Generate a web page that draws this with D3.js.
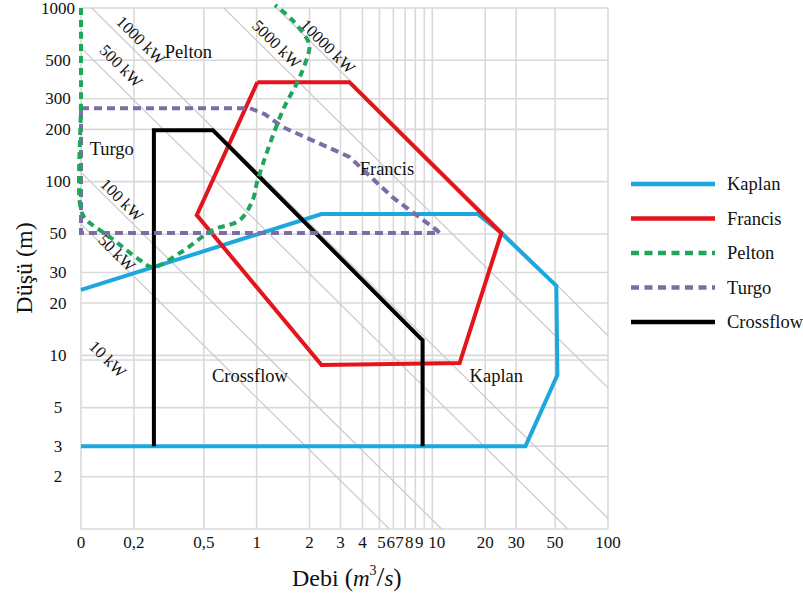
<!DOCTYPE html>
<html><head><meta charset="utf-8">
<script src="https://cdn.jsdelivr.net/npm/d3@7"></script>
<style>body{margin:0;background:#fff} text{font-family:'Liberation Serif','Times New Roman',serif;}</style>
</head><body>
<svg id="c" width="803" height="596"></svg>
<script>
// ---- data ----
const xTickValues=[0.1,0.2,0.5,1,2,3,4,5,6,7,8,9,10,20,30,50,100];
const xTickLabels=["0","0,2","0,5","1","2","3","4","5","6","7","8","9","10","20","30","50","100"];
const yTickValues=[1000,500,300,200,100,50,30,20,10,5,3,2];
const yTickLabels=["1000","500","300","200","100","50","30","20","10","5","3","2"];
const yExtraGrid=[1,9.4];

const powerLabels=["10 kW","50 kW","100 kW","500 kW","1000 kW","5000 kW","10000 kW"];
const powerQH=[null,5.7,11.3,59,115,650,1300];
const powerLabelQ=[0.142,0.16,0.171,0.169,0.219,1.296,2.54];
const powerLabelH=[9.5,38.9,78.5,464,651,619,600];

const kaplanQ=[0.1,2.34,18.1,24.7,50.8,51.5,33.9,0.1];
const kaplanH=[23.8,65.1,65.1,50.6,25.1,7.7,3,3];
const francisQ=[1.01,3.37,24.7,14.3,2.34,0.456,1.01];
const francisH=[374,374,50.6,9.03,8.8,64.2,374];
const peltonQ=[0.1,0.1,0.1,0.108,0.146,0.216,0.257,0.365,0.563,0.80,0.95,1.01,1.41,1.76,2.0,1.95,1.6,1.27];
const peltonH=[1000,300,68.6,60,48,35.4,32.2,38.8,52.6,60,78.5,101,258,400,596,653,851,1040];
const turgoQ=[0.1,0.914,1.11,1.41,3.37,5.92,10.6,11.0,0.1,0.1];
const turgoH=[265,265,245,206,139,81.5,52.6,50.6,50.6,265];
const crossQ=[0.26,0.26,0.563,8.8,8.8];
const crossH=[3,198,198,12.2,3];

const regionNames=["Pelton","Turgo","Francis","Crossflow","Kaplan"];
const regionQ=[0.30,0.112,3.86,0.556,16.3];
const regionH=[515,142,109,7.02,7.02];

const legendNames=["Kaplan","Francis","Pelton","Turgo","Crossflow"];

// ---- chart ----
const svg=d3.select("#c");
const x=d3.scaleLog().domain([0.1,100]).range([81,608]);
const y=d3.scaleLog().domain([1,1000]).range([529,8]);
const gridCol="#d9d9d9";
const ink="#111";
// small nudges for the crowded 5..10 tick labels
const xTickNudge={5:2,6:-2.5,7:-5.5,8:-6,9:-5,10:4.5};

svg.append("rect").attr("width",803).attr("height",596).attr("fill","#fff");
svg.append("defs").append("clipPath").attr("id","plot").append("rect")
  .attr("x",x(0.1)).attr("y",y(1000)).attr("width",x(100)-x(0.1)).attr("height",y(1)-y(1000));

const g=svg.append("g");
// grid
g.selectAll(".vg").data(xTickValues).join("line")
  .attr("x1",d=>x(d)).attr("x2",d=>x(d)).attr("y1",y(1000)).attr("y2",y(1))
  .attr("stroke",gridCol).attr("stroke-width",1.6);
g.selectAll(".hg").data(yTickValues.concat(yExtraGrid)).join("line")
  .attr("x1",x(0.1)).attr("x2",x(100)).attr("y1",d=>y(d)).attr("y2",d=>y(d))
  .attr("stroke",gridCol).attr("stroke-width",1.6);

// power lines
const pl=g.append("g").attr("clip-path","url(#plot)");
powerQH.forEach(qh=>{
  if(qh==null) return;
  pl.append("line").attr("x1",x(0.01)).attr("y1",y(qh/0.01)).attr("x2",x(1000)).attr("y2",y(qh/1000))
    .attr("stroke","#cccccc").attr("stroke-width",1.3);
});
const ang=Math.atan2(y(1/10)-y(1),x(10)-x(1))*180/Math.PI;
powerLabels.forEach((t,i)=>{
  g.append("text").attr("transform",`translate(${x(powerLabelQ[i])},${y(powerLabelH[i])}) rotate(${ang})`)
    .attr("text-anchor","middle").attr("dominant-baseline","central")
    .attr("font-size",16.5).attr("fill",ink).text(t);
});

// axis tick labels
g.selectAll(".xt").data(xTickValues).join("text")
  .attr("x",d=>x(d)+(xTickNudge[d]||0)).attr("y",548).attr("text-anchor","middle")
  .attr("font-size",17).attr("fill",ink)
  .text((d,i)=>xTickLabels[i]);
g.selectAll(".yt").data(yTickValues).join("text")
  .attr("x",58).attr("y",d=>y(d)).attr("text-anchor","middle").attr("dominant-baseline","central")
  .attr("font-size",17).attr("fill",ink)
  .text((d,i)=>yTickLabels[i]);

// axis titles
svg.append("text").attr("transform","translate(32,268) rotate(-90)")
  .attr("text-anchor","middle").attr("font-size",24).attr("fill",ink)
  .text("Düşü (m)");
const xt=svg.append("text").attr("x",292).attr("y",586).attr("font-size",24).attr("fill",ink);
xt.append("tspan").text("Debi  ");
xt.append("tspan").attr("font-size",25).text("(");
xt.append("tspan").attr("font-style","italic").attr("font-size",23).text("m");
xt.append("tspan").attr("font-size",14).attr("dy",-11).text("3");
xt.append("tspan").attr("font-size",28).attr("dy",11).text("/");
xt.append("tspan").attr("font-style","italic").attr("font-size",23).text("s");
xt.append("tspan").attr("font-size",25).text(")");

// series
const series=[
  {name:"Kaplan",Q:kaplanQ,H:kaplanH,color:"#1ca8df",dash:null,curve:d3.curveLinear},
  {name:"Francis",Q:francisQ,H:francisH,color:"#e3141c",dash:null,curve:d3.curveLinear},
  {name:"Pelton",Q:peltonQ,H:peltonH,color:"#1fa65c",dash:"7,5",curve:d3.curveCatmullRom.alpha(0.5)},
  {name:"Turgo",Q:turgoQ,H:turgoH,color:"#7d6ca6",dash:"8,5",curve:d3.curveLinear},
  {name:"Crossflow",Q:crossQ,H:crossH,color:"#000000",dash:null,curve:d3.curveLinear}
];
const byName=Object.fromEntries(series.map(s=>[s.name,s]));
["Kaplan","Francis","Crossflow","Turgo","Pelton"].forEach(n=>{
  const s=byName[n];
  const pts=s.Q.map((q,i)=>[x(q),y(s.H[i])]);
  g.append("path").attr("d",d3.line().curve(s.curve)(pts)).attr("fill","none")
    .attr("stroke",s.color).attr("stroke-width",4).attr("stroke-linejoin","miter")
    .attr("stroke-dasharray",s.dash);
});

// region labels
regionNames.forEach((t,i)=>{
  g.append("text").attr("x",x(regionQ[i])).attr("y",y(regionH[i]))
    .attr("font-size",18.5).attr("fill",ink).text(t);
});

// legend
const lg=svg.append("g");
legendNames.forEach((n,i)=>{
  const s=byName[n]; const ly=184+i*34.5;
  lg.append("line").attr("x1",631).attr("x2",715).attr("y1",ly).attr("y2",ly)
    .attr("stroke",s.color).attr("stroke-width",4.5).attr("stroke-dasharray",s.dash?"8,5.5":null);
  lg.append("text").attr("x",727).attr("y",ly+6).attr("font-size",18.5)
    .attr("fill",ink).text(n);
});
</script>
</body></html>
